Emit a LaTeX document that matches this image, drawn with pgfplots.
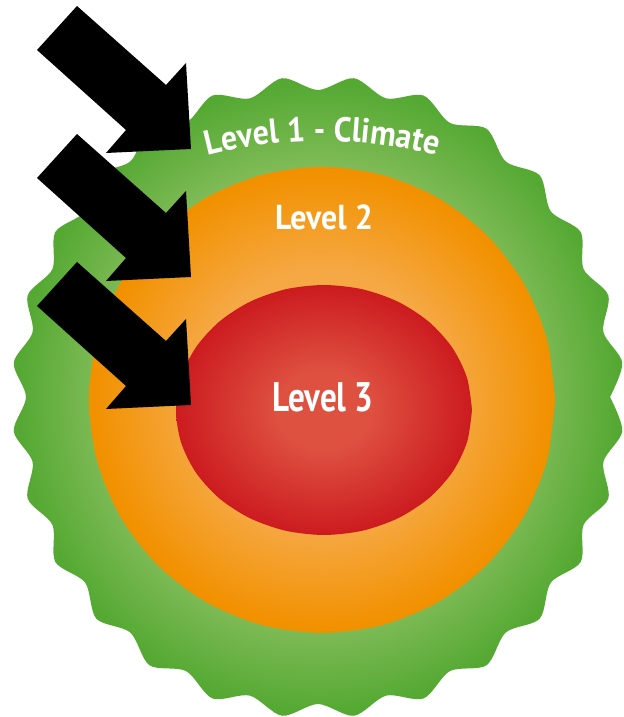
\documentclass[border=0pt]{standalone}
\usepackage{pgfplots}
\pgfplotsset{compat=1.18}
\usepackage{fontspec}
\setmainfont{PT Sans}
\newfontfamily\fA[FakeStretch=0.92]{PT Sans}
\newfontfamily\fB[FakeStretch=0.8]{PT Sans}
\usetikzlibrary{decorations.text}
\definecolor{gLight}{HTML}{80BB57}
\definecolor{gDark}{HTML}{55A933}
\definecolor{oLight}{HTML}{F5A843}
\definecolor{oDark}{HTML}{F29100}
\definecolor{rLight}{HTML}{DE5040}
\definecolor{rDark}{HTML}{CC1B1F}
\pgfdeclareradialshading{greenshade}{\pgfpoint{0bp}{0bp}}{color(0bp)=(gLight); color(18bp)=(gLight); color(24.5bp)=(gDark); color(50bp)=(gDark)}
\pgfdeclareradialshading{orangeshade}{\pgfpoint{0bp}{0bp}}{color(0bp)=(oLight); color(14bp)=(oLight); color(24.5bp)=(oDark); color(50bp)=(oDark)}
\pgfdeclareradialshading{redshade}{\pgfpoint{0bp}{0bp}}{color(0bp)=(rLight); color(8bp)=(rLight); color(25bp)=(rDark); color(50bp)=(rDark)}
\begin{document}
\begin{tikzpicture}
\begin{axis}[
  x=0.75pt, y=0.75pt,
  xmin=-318, xmax=306, ymin=-320, ymax=397,
  hide axis, clip=false,
]
\path (rel axis cs:0,0) rectangle (rel axis cs:1,1);
% green scalloped disc (angle, radius)
\addplot[draw=none, shade, shading=greenshade, smooth, data cs=polar] coordinates {
(0,292) (6.43,306.2) (12.86,292.7) (19.29,307.6) (25.71,294.8) (32.14,310.2)
(38.57,297.8) (45,313.5) (51.43,301.2) (57.86,316.8) (64.29,304.2) (70.71,319.4)
(77.14,306.3) (83.57,320.8) (90,307) (96.43,320.8) (102.86,306.3) (109.29,319.4)
(115.71,304.2) (122.14,316.8) (128.57,301.2) (135,313.5) (141.43,297.8) (147.86,310.2)
(154.29,294.8) (160.71,307.6) (167.14,292.7) (173.57,306.2) (180,292) (186.43,306.2)
(192.86,292.7) (199.29,307.6) (205.71,294.8) (212.14,310.2) (218.57,297.8) (225,313.5)
(231.43,301.2) (237.86,316.8) (244.29,304.2) (250.71,319.4) (257.14,306.3) (263.57,320.8)
(270,307) (276.43,320.8) (282.86,306.3) (289.29,319.4) (295.71,304.2) (302.14,316.8)
(308.57,301.2) (315,313.5) (321.43,297.8) (327.86,310.2) (334.29,294.8) (340.71,307.6)
(347.14,292.7) (353.57,306.2) (360,292)
} -- cycle;
% orange disc
\addplot[draw=none, shade, shading=orangeshade, smooth] coordinates {
(237,-3) (229.06,57.30) (205.78,113.5) (168.76,161.76) (120.5,198.78) (64.30,222.06)
(4,230) (-56.30,222.06) (-112.5,198.78) (-160.76,161.76) (-197.78,113.5) (-221.06,57.30)
(-229,-3) (-221.06,-63.30) (-197.78,-119.5) (-160.76,-167.76) (-112.5,-204.78) (-56.30,-228.06)
(4,-236) (64.30,-228.06) (120.5,-204.78) (168.76,-167.76) (205.78,-119.5) (229.06,-63.30)
(237,-3)
} -- cycle;
% red disc
\addplot[draw=none, shade, shading=redshade, smooth] coordinates {
(154,-13) (148.96,19.35) (134.17,49.5) (110.65,75.39) (80,95.25) (44.30,107.74)
(6,112) (-32.30,107.74) (-68,95.25) (-98.65,75.39) (-122.17,49.5) (-136.96,19.35)
(-142,-13) (-136.96,-45.35) (-122.17,-75.5) (-98.65,-101.39) (-68,-121.25) (-32.30,-133.74)
(6,-138) (44.30,-133.74) (80,-121.25) (110.65,-101.39) (134.17,-75.5) (148.96,-45.35)
(154,-13)
} -- cycle;
% arrows
\addplot[fill=black, draw=none] coordinates {
(-241,391) (-152,312) (-132,334) (-127,248) (-212,244) (-192,267) (-281,347)
} -- cycle;
\addplot[fill=black, draw=none] coordinates {
(-241,263) (-152,184) (-132,206) (-127,120) (-212,116) (-192,139) (-281,219)
} -- cycle;
\addplot[fill=black, draw=none] coordinates {
(-241,135) (-152,56) (-132,78) (-127,-8) (-212,-12) (-192,11) (-281,91)
} -- cycle;
% labels
\path[decorate, decoration={text along path, text align=center, text color=white,
  text={|\fA\bfseries\fontsize{26pt}{30pt}\selectfont|Level 1 - Climate}}]
  (axis cs:-166.8,222.8) arc[start angle=112, end angle=68, radius=342pt];
\node[text=white, font=\fA\bfseries\fontsize{26pt}{30pt}\selectfont] at (axis cs:6,180) {Level 2};
\node[text=white, font=\fB\bfseries\fontsize{31pt}{36pt}\selectfont] at (axis cs:5,0) {Level 3};
\end{axis}
\end{tikzpicture}
\end{document}
